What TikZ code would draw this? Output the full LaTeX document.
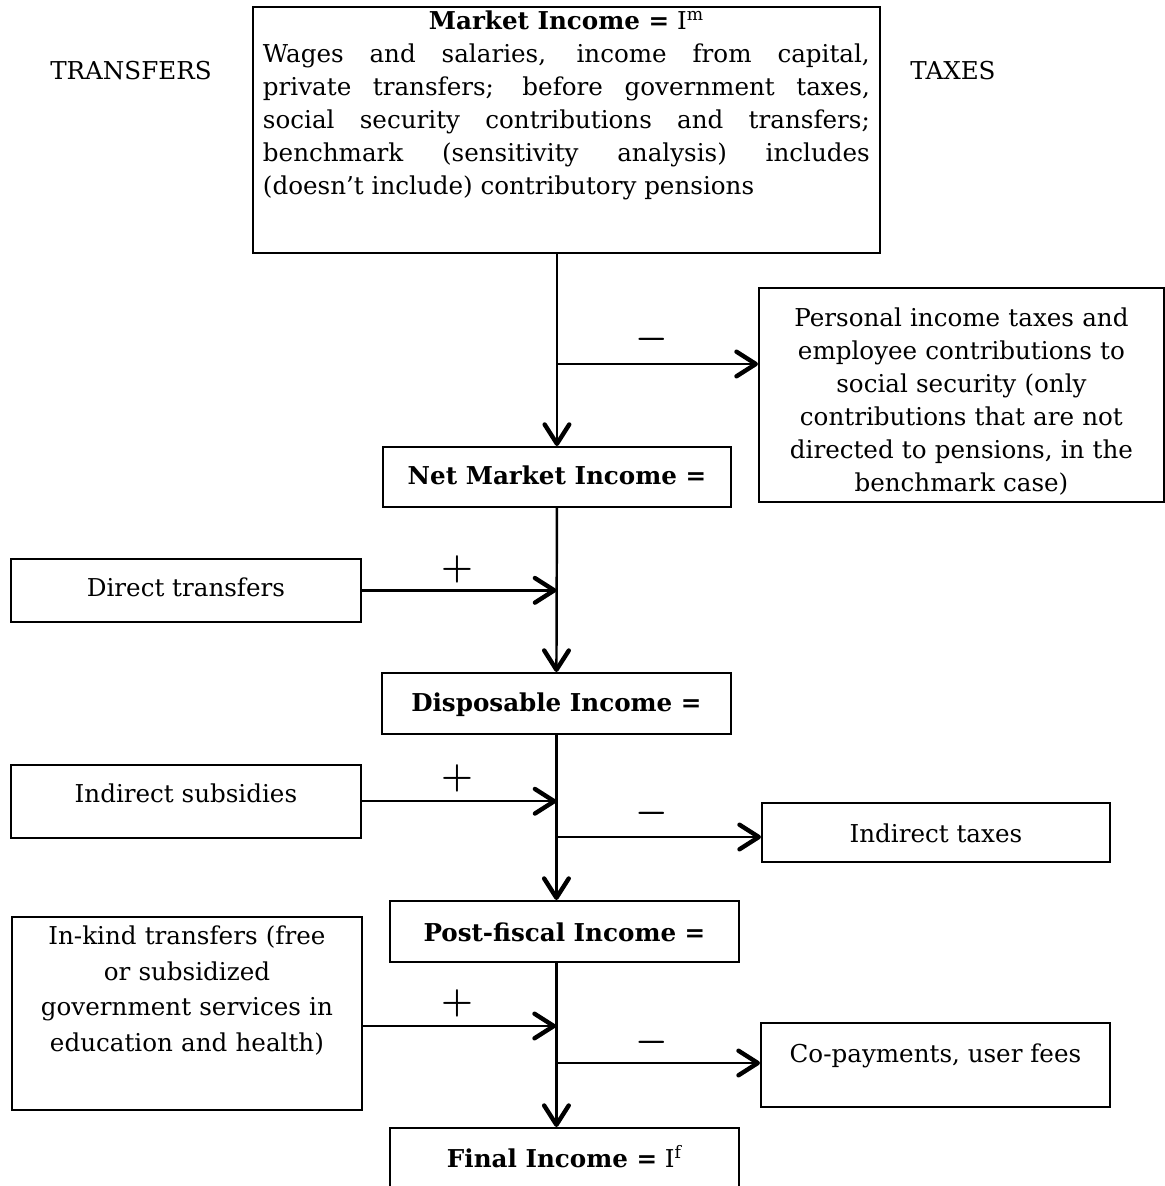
\documentclass[tikz,border=0pt]{standalone}
\usepackage[no-math]{fontspec}
\setmainfont{DejaVu Serif}
\usetikzlibrary{arrows.meta}
\tikzset{
  box/.style={draw, line width=1.1pt, inner xsep=0pt, inner ysep=0pt, anchor=north west, font=\fontsize{14}{19}\selectfont},
  heading/.style={inner sep=0pt, font=\fontsize{14}{19}\selectfont},
  sign/.style={inner sep=0pt, font=\huge\boldmath},
  flow/.style={line width=1.4pt, -{Straight Barb[length=11pt,width=14pt,line width=2.5pt,round]}}
}
\begin{document}
\begin{tikzpicture}[x=0.02cm,y=-0.02cm]
\useasboundingbox (0,0) rectangle (1165,1186);
\node[heading] (transfers) at (131,71) {TRANSFERS};
\node[heading] (taxes) at (953,71) {TAXES};
\node[box, text width=12.14cm, inner xsep=0.2cm, align=justify, text height=13pt, text depth=127pt, font=\fontsize{14}{18.7}\selectfont] (market) at (252,6) {{\centering\textbf{Market Income =} I\textsuperscript{m}\par}Wages and salaries, income from capital,\linebreak private transfers; before government taxes,\linebreak social security contributions and transfers;\linebreak benchmark (sensitivity analysis) includes\linebreak (doesn’t include) contributory pensions};
\node[box, text width=8.1cm, align=center, text height=22.1pt, text depth=99.8pt, font=\fontsize{14}{18.7}\selectfont] (perstax) at (758,287) {Personal income taxes and\\ employee contributions to\\ social security (only\\ contributions that are not\\ directed to pensions, in the\\ benchmark case)};
\node[box, minimum width=6.96cm, text height=21.5pt, text depth=12.5pt] (netm) at (382,446) {\textbf{Net Market Income =}};
\node[box, minimum width=7cm, text height=21.5pt, text depth=14.2pt] (direct) at (10,558) {Direct transfers};
\node[box, minimum width=6.98cm, text height=22.1pt, text depth=12.5pt] (disp) at (381,672) {\textbf{Disposable Income =}};
\node[box, minimum width=7cm, text height=21.5pt, text depth=19.8pt] (indsub) at (10,764) {Indirect subsidies};
\node[box, minimum width=6.96cm, text height=22.7pt, text depth=10.8pt] (indtax) at (761,802) {Indirect taxes};
\node[box, minimum width=6.98cm, text height=23.2pt, text depth=11.3pt] (post) at (389,900) {\textbf{Post-fiscal Income =}};
\node[box, text width=7cm, align=center, text height=15.9pt, text depth=94.1pt, font=\fontsize{14}{20.2}\selectfont] (inkind) at (11,916) {In-kind transfers (free\\ or subsidized\\ government services in\\ education and health)};
\node[box, minimum width=6.98cm, text height=22.7pt, text depth=24.9pt] (copay) at (760,1022) {Co-payments, user fees};
\node[box, minimum width=6.98cm, text height=22.7pt, text depth=14.2pt] (final) at (389,1127) {\textbf{Final Income =} I\textsuperscript{f}};
\coordinate (j1) at (556,364);
\coordinate (j2) at (556,837);
\coordinate (j3) at (556,1026);
\coordinate (j4) at (556,1063);
\draw[flow] (market.south -| netm.north) -- (netm.north);
\draw[flow] (j1) -- (j1 -| perstax.west);
\draw[flow] (netm.south) -- (disp.north);
\draw[flow] (direct.east) -- (direct.east -| disp.north);
\draw[flow] (disp.south) -- (disp.south |- post.north);
\draw[flow] (indsub.east) -- (indsub.east -| disp.south);
\draw[flow] (j2) -- (j2 -| indtax.west);
\draw[flow] (disp.south |- post.south) -- (disp.south |- final.north);
\draw[flow] (inkind.east |- j3) -- (j3);
\draw[flow] (j4) -- (j4 -| copay.west);
\node[sign] (plus1) at (457,569) {$+$};
\node[sign] (plus2) at (457,778) {$+$};
\node[sign] (plus3) at (457,1003) {$+$};
\node[sign] (minus1) at (652,339) {$-$};
\node[sign] (minus2) at (652,813) {$-$};
\node[sign] (minus3) at (652,1042) {$-$};
\end{tikzpicture}
\end{document}
